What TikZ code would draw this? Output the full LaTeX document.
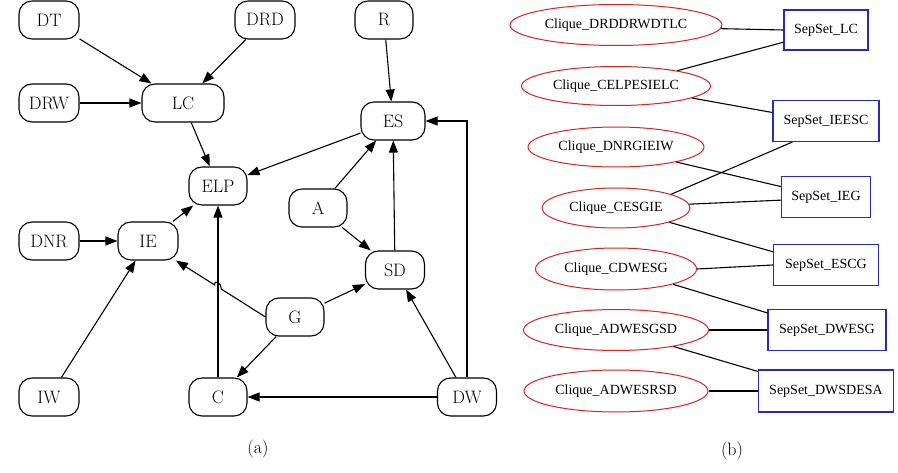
\documentclass[tikz,border=0pt]{standalone}
\usepackage{fontspec}
\newfontfamily\timesf{Liberation Serif}
\usetikzlibrary{arrows.meta,shapes.geometric,calc}
\definecolor{cred}{RGB}{215,35,35}
\definecolor{cblue}{RGB}{40,40,195}
\tikzset{
  lnode/.style={draw, line width=1.1pt, rounded corners=13pt, minimum width=60pt, minimum height=38pt, inner sep=2pt, font=\fontsize{18}{21}\selectfont},
  larr/.style={line width=1.1pt, -{Triangle[length=12pt,width=9pt]}},
  clq/.style={draw=cred, line width=1pt, ellipse, inner sep=0pt, font=\timesf\fontsize{14}{17}\selectfont},
  sep/.style={draw=cblue, line width=1.1pt, rectangle, inner sep=0pt, minimum height=41pt, font=\timesf\fontsize{14}{17}\selectfont},
  rline/.style={line width=1.1pt},
  capt/.style={font=\fontsize{18}{21}\selectfont}
}
\begin{document}
\begin{tikzpicture}[x=1pt,y=-1pt]
\useasboundingbox (0,0) rectangle (898,473);
% ---------- (a) ----------
\node[lnode] (DT)  at (49,20)  {DT};
\node[lnode] (DRD) at (265,20) {DRD};
\node[lnode] (DRW) at (49,103) {DRW};
\node[lnode, minimum width=82pt] (LC) at (183,103) {LC};
\node[lnode, minimum width=58pt] (ELP) at (218,186) {ELP};
\node[lnode, minimum width=58pt] (R) at (384,20) {R};
\node[lnode, minimum width=64pt] (ES) at (393,121) {ES};
\node[lnode, minimum width=58pt] (A) at (318,208) {A};
\node[lnode] (DNR) at (49,241) {DNR};
\node[lnode] (IE) at (148,241) {IE};
\node[lnode, minimum width=59pt] (SD) at (395,270) {SD};
\node[lnode, minimum width=58pt] (G) at (295,317) {G};
\node[lnode] (IW) at (49,397) {IW};
\node[lnode, minimum width=58pt] (C) at (218,397) {C};
\node[lnode, minimum width=59pt] (DW) at (467,397) {DW};
\node[capt] (capa) at (258,449) {(a)};

\draw[larr] (DT) -- (LC);
\draw[larr] (DRD) -- (LC);
\draw[larr] (DRW) -- (LC);
\draw[larr] (LC) -- (ELP);
\draw[larr] (ES) -- (ELP);
\draw[larr] (R) -- (ES);
\draw[larr] (A) -- (ES);
\draw[larr] (A) -- (SD);
\draw[larr] (SD) -- (ES);
\draw[larr] (DW.north) |- (ES.east);
\draw[larr] (DW) -- (SD);
\draw[larr] (DW) -- (C);
\draw[larr] (G) -- (SD);
\draw[larr] (G) -- (C);
\draw[larr] (C) -- (ELP);
\draw[larr] (IE) -- (ELP);
\draw[larr] (DNR) -- (IE);
\draw[larr] (IW) -- (IE);
\coordinate (j1) at (221.4,289.1);
\coordinate (j2) at (214.6,284.9);
\draw[larr] (G.west) -- (j1) .. controls ($(j1)+(0,-6)$) and ($(j2)+(0,-6)$) .. (j2) -- (IE.-35);

% ---------- (b) ----------
\node[clq, minimum width=212pt, minimum height=41pt] (c1) at (616,25) {Clique\_DRDDRWDTLC};
\node[clq, minimum width=189pt, minimum height=39pt] (c2) at (616,86) {Clique\_CELPESIELC};
\node[clq, minimum width=176pt, minimum height=40pt] (c3) at (616,147) {Clique\_DNRGIEIW};
\node[clq, minimum width=148pt, minimum height=40pt] (c4) at (616,208) {Clique\_CESGIE};
\node[clq, minimum width=161pt, minimum height=42pt] (c5) at (616,269) {Clique\_CDWESG};
\node[clq, minimum width=185pt, minimum height=41pt] (c6) at (616,330) {Clique\_ADWESGSD};
\node[clq, minimum width=184pt, minimum height=42pt] (c7) at (616,391) {Clique\_ADWESRSD};

\node[sep, minimum width=84pt, minimum height=40pt] (s1) at (826,30) {SepSet\_LC};
\node[sep, minimum width=106pt] (s2) at (826,121) {SepSet\_IEESC};
\node[sep, minimum width=89pt] (s3) at (826,197) {SepSet\_IEG};
\node[sep, minimum width=105pt] (s4) at (826,265) {SepSet\_ESCG};
\node[sep, minimum width=118pt] (s5) at (827,330) {SepSet\_DWESG};
\node[sep, minimum width=135pt, minimum height=42pt] (s6) at (826,391) {SepSet\_DWSDESA};
\node[capt] (capb) at (732,451) {(b)};

\draw[rline] (c1.-2) -- (s1.west);
\draw[rline] (c2.14) -- (s1.196);
\draw[rline] (c2.-9) -- (s2.171);
\draw[rline] (c3.-14) -- (s3.167);
\draw[rline] (c4.14) -- (s2.212);
\draw[rline] (c4.3) -- (s3.184);
\draw[rline] (c4.-15) -- (s4.166);
\draw[rline] (c5.east) -- (s4.west);
\draw[rline] (c5.-15) -- (s5.164);
\draw[rline] (c6.east) -- (s5.west);
\draw[rline] (c6.-16) -- (s6.164);
\draw[rline] (c7.east) -- (s6.west);
\end{tikzpicture}
\end{document}
